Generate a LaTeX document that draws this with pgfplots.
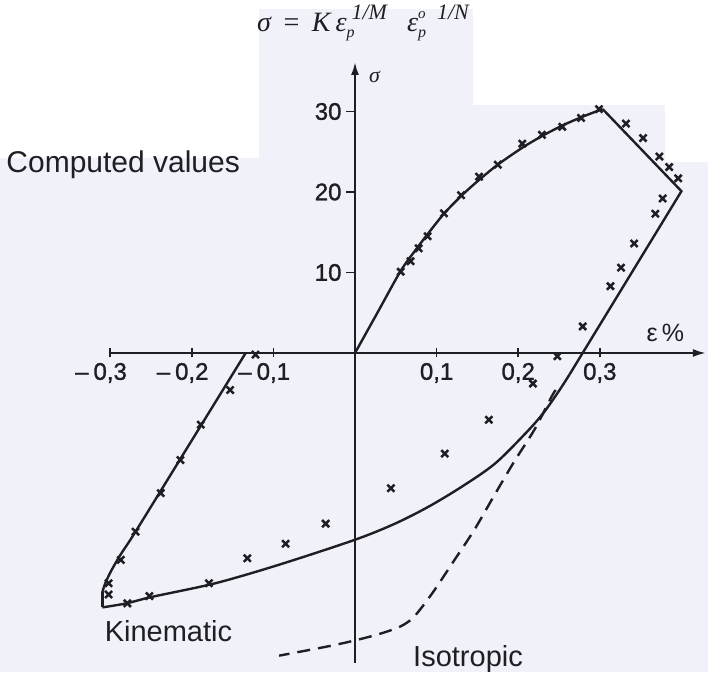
\documentclass[border=0pt]{standalone}
\usepackage{fontspec}
\setmainfont{Liberation Sans}
\newfontfamily\seriffont{Liberation Serif}
\newfontfamily\tickfont[FakeBold=1.2]{Liberation Sans}
\usepackage{pgfplots}
\pgfplotsset{compat=1.18}
\usetikzlibrary{arrows.meta}
\definecolor{paper}{RGB}{241,241,250}
\definecolor{ink}{RGB}{30,30,35}

\begin{document}
\begin{tikzpicture}
% page frame and tinted paper
\path[use as bounding box] (0pt,0pt) rectangle (708pt,-672pt);
\fill[paper] (0pt,0pt) rectangle (708pt,-672pt);
\fill[white] (0pt,0pt) rectangle (708pt,-8.5pt);
\fill[white] (0pt,0pt) rectangle (259pt,-158pt);
\fill[white] (473pt,0pt) rectangle (708pt,-105pt);
\fill[white] (665pt,0pt) rectangle (708pt,-162pt);
\begin{axis}[
  at={(110.2pt,-662.9pt)}, anchor=south west,
  scale only axis, width=595.7pt, height=600.9pt,
  xmin=-0.30, xmax=0.43, ymin=-38.5, ymax=36.15,
  axis lines=middle,
  axis line style={ink, line width=2.2pt, -{Latex[length=13pt,width=8pt]}},
  clip=false,
  xtick={-0.3,-0.2,-0.1,0.1,0.2,0.3},
  xticklabels={{\llap{–\hspace{5pt}}0,3},{\llap{–\hspace{5pt}}0,2},{\llap{–\hspace{5pt}}0,1},{0,1},{0,2},{0,3}},
  ytick={10,20,30}, yticklabels={10,20,30},
  xtick align=center, ytick align=outside,
  major tick length=9pt,
  tick style={ink, line width=1.7pt},
  ticklabel style={font=\tickfont\fontsize{24}{24}\selectfont, text=ink},
  xticklabel style={anchor=north, yshift=-2pt},
  yticklabel style={anchor=east, xshift=-1pt},
]
% loading branch
\addplot[ink, line width=2.4pt, smooth] coordinates {
  (0,0) (0.028,5.1) (0.056,10.2) (0.075,12.9) (0.090,14.9) (0.109,17.3)
  (0.130,19.5) (0.152,21.5) (0.175,23.4) (0.205,25.5) (0.230,27.0)
  (0.255,28.3) (0.280,29.4) (0.3035,30.3)};
% peak, relaxation and elastic unloading
\addplot[ink, line width=2.4pt, sharp plot] coordinates {
  (0.3035,30.3) (0.400,20.1) (0.2633,-2.6)};
% kinematic unloading into compression
\addplot[ink, line width=2.4pt, smooth] coordinates {
  (0.2633,-2.6) (0.250,-4.7) (0.232,-7.3) (0.2125,-9.6) (0.172,-13.7)
  (0.131,-16.6) (0.090,-19.1) (0.049,-21.2) (0,-23.2) (-0.093,-26.3)
  (-0.171,-28.6) (-0.249,-30.3) (-0.280,-31.1) (-0.3096,-31.6)};
\addplot[ink, line width=2.4pt, sharp plot] coordinates {
  (-0.3096,-31.6) (-0.3096,-29.7)};
% reloading branch
\addplot[ink, line width=2.4pt, smooth] coordinates {
  (-0.3096,-29.7) (-0.306,-28.6) (-0.299,-27.1) (-0.287,-25.0)
  (-0.269,-22.2) (-0.2015,-11.1) (-0.134,0)};
% isotropic hardening prediction
\addplot[ink, line width=2.4pt, dash pattern=on 13pt off 8pt, smooth] coordinates {
  (0.246,-4.6) (0.241,-5.4) (0.2206,-9.4) (0.195,-13.5) (0.170,-17.8)
  (0.146,-22.0) (0.120,-26.0) (0.095,-29.8) (0.072,-32.8) (0.055,-34.0)
  (0.030,-34.9) (0.0,-35.7) (-0.031,-36.4) (-0.093,-37.6)};
% computed values
\addplot[ink, only marks, mark=x, mark size=5pt, mark options={line width=2.5pt}] coordinates {
  (0.056,10.1) (0.068,11.4) (0.078,13.0) (0.089,14.5) (0.109,17.35)
  (0.130,19.6) (0.152,21.9) (0.175,23.4) (0.205,26.0) (0.229,27.1)
  (0.254,28.1) (0.277,29.2) (0.299,30.3)
  (0.332,28.5) (0.353,26.7) (0.373,24.4) (0.385,23.1) (0.396,21.7)
  (0.377,19.2) (0.368,17.3) (0.342,13.6) (0.326,10.6) (0.313,8.3)
  (0.279,3.3) (0.248,-0.4) (0.218,-3.8) (0.164,-8.3) (0.110,-12.5)
  (0.044,-16.8) (-0.036,-21.2) (-0.085,-23.7) (-0.132,-25.5)
  (-0.179,-28.6) (-0.252,-30.2) (-0.279,-31.1) (-0.302,-30.0)
  (-0.302,-28.6) (-0.287,-25.7) (-0.269,-22.2) (-0.238,-17.4)
  (-0.214,-13.3) (-0.189,-8.9) (-0.153,-4.6) (-0.122,-0.2)};
% annotations
\node[anchor=base west, font=\fontsize{30}{30}\selectfont, text=ink] at (axis cs:-0.4315,22.48) {Computed values};
\node[anchor=base west, font=\fontsize{29}{29}\selectfont, text=ink] at (axis cs:-0.3110,-35.78) {Kinematic};
\node[anchor=base west, font=\fontsize{29}{29}\selectfont, text=ink] at (axis cs:0.0670,-38.94) {Isotropic};
\node[anchor=base west, font=\seriffont\itshape\fontsize{22}{22}\selectfont, text=ink] at (axis cs:0.0130,33.66) {σ};
\node[anchor=base west, font=\fontsize{25}{25}\selectfont, text=ink] at (axis cs:0.3530,1.37) {ε\,\%};
\node[anchor=base west, font=\seriffont\itshape\fontsize{28}{28}\selectfont, text=ink, inner sep=0pt] at (axis cs:-0.1201,40.0)
  {σ\hspace{11pt}=\hspace{11pt}K\hspace{5pt}ε\rlap{\raisebox{-6pt}{\fontsize{16}{16}\selectfont p}}\hspace{5pt}\raisebox{12pt}{\fontsize{22}{22}\selectfont 1/M}\hspace{20pt}ε\rlap{\raisebox{-6pt}{\fontsize{16}{16}\selectfont p}\raisebox{13pt}{\hspace{-8pt}\fontsize{15}{15}\selectfont o}}\hspace{19pt}\raisebox{12pt}{\fontsize{22}{22}\selectfont 1/N}};
\end{axis}
\end{tikzpicture}
\end{document}
